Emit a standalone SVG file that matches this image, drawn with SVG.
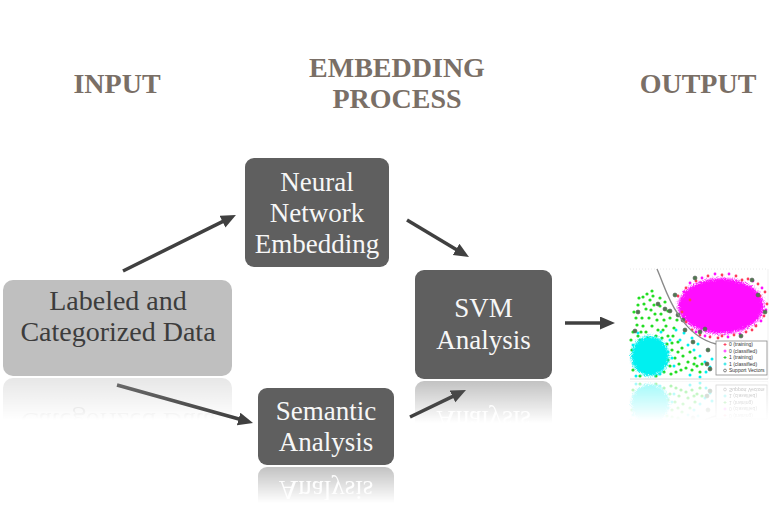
<svg xmlns="http://www.w3.org/2000/svg" xmlns:xlink="http://www.w3.org/1999/xlink" width="780" height="521" viewBox="0 0 780 521">
<style>
.hdr{font-family:"Liberation Serif","Times New Roman",serif;font-weight:bold;font-size:28px;fill:#7a6f66;text-anchor:middle}
.dark{fill:#5f5f5f}
.light{fill:#bfbfbf}
.dtxt{font-family:"Liberation Serif","Times New Roman",serif;font-size:27px;fill:#f7f7f7;text-anchor:middle}
.ltxt{font-family:"Liberation Serif","Times New Roman",serif;font-size:28px;fill:#3c3c3c;text-anchor:middle}
.arrow{stroke:#404040;stroke-width:3.5;fill:none;marker-end:url(#ah)}
.g{fill:#22dd22}
.c{fill:#00f0f0}
.r{fill:#ff3a5a}
.m{fill:#ff10ff}
.sv{fill:#4e7a4e;stroke:#5a5a5a;stroke-width:0.6}
.lg{font-family:"Liberation Sans",Arial,sans-serif;font-size:5px;fill:#333}
</style>
<defs>
<marker id="ah" markerUnits="userSpaceOnUse" markerWidth="16" markerHeight="14" refX="5" refY="6.5" orient="auto">
<path d="M0,0 L15,6.5 L0,13 z" fill="#404040"/>
</marker>
<linearGradient id="fade" x1="0" y1="0" x2="0" y2="1">
<stop offset="0" stop-color="#fff" stop-opacity="0.38"/>
<stop offset="1" stop-color="#fff" stop-opacity="0"/>
</linearGradient>
<mask id="mLab" maskUnits="userSpaceOnUse" x="0" y="377" width="240" height="45"><rect x="0" y="378" width="240" height="42" fill="url(#fade)"/></mask>
<mask id="mSvm" maskUnits="userSpaceOnUse" x="410" y="380" width="150" height="45"><rect x="410" y="381" width="150" height="42" fill="url(#fade)"/></mask>
<mask id="mSem" maskUnits="userSpaceOnUse" x="255" y="466" width="145" height="40"><rect x="255" y="467" width="145" height="36" fill="url(#fade)"/></mask>
<mask id="mOut" maskUnits="userSpaceOnUse" x="625" y="380" width="150" height="45"><rect x="625" y="381" width="150" height="40" fill="url(#fade)"/></mask>
<filter id="speck" x="-30%" y="-30%" width="160%" height="160%">
<feGaussianBlur in="SourceGraphic" stdDeviation="1" result="b"/>
<feTurbulence type="fractalNoise" baseFrequency="0.9" numOctaves="2" seed="3" result="n"/>
<feDisplacementMap in="b" in2="n" scale="7" xChannelSelector="R" yChannelSelector="G"/>
</filter>
<clipPath id="plotClip"><rect x="629" y="266" width="140" height="114"/></clipPath>
</defs>

<g id="headers">
<text class="hdr" x="117" y="93">INPUT</text>
<text class="hdr" x="397" y="77">EMBEDDING</text>
<text class="hdr" x="397" y="108">PROCESS</text>
<text class="hdr" x="698" y="93">OUTPUT</text>
</g>

<g id="connectors">
<line class="arrow" x1="123" y1="271" x2="227" y2="219.4"/>
<line class="arrow" x1="407" y1="220" x2="460.4" y2="251.9"/>
<line class="arrow" x1="117" y1="385" x2="243.4" y2="420.3"/>
<line class="arrow" x1="410" y1="417" x2="457" y2="394.3"/>
<line class="arrow" x1="565" y1="323" x2="605" y2="323"/>
</g>

<g id="node-labeled">
<g id="lab-box">
<rect class="light" x="3" y="280" width="229" height="96" rx="10"/>
<text class="ltxt" x="118" y="310">Labeled and</text>
<text class="ltxt" x="118" y="341">Categorized Data</text>
</g>
<g mask="url(#mLab)"><use xlink:href="#lab-box" href="#lab-box" transform="translate(0,754) scale(1,-1)"/></g>
</g>

<g id="node-neural">
<rect class="dark" x="245" y="158" width="144" height="109" rx="9"/>
<text class="dtxt" x="317" y="191">Neural</text>
<text class="dtxt" x="317" y="222">Network</text>
<text class="dtxt" x="317" y="253">Embedding</text>
</g>

<g id="node-semantic">
<g id="sem-box">
<rect class="dark" x="258" y="388" width="136" height="77" rx="9"/>
<text class="dtxt" x="326" y="420">Semantic</text>
<text class="dtxt" x="326" y="451">Analysis</text>
</g>
<g mask="url(#mSem)"><use xlink:href="#sem-box" href="#sem-box" transform="translate(0,932) scale(1,-1)"/></g>
</g>

<g id="node-svm">
<g id="svm-box">
<rect class="dark" x="415" y="270" width="137" height="109" rx="9"/>
<text class="dtxt" x="483.5" y="317">SVM</text>
<text class="dtxt" x="483.5" y="349">Analysis</text>
</g>
<g mask="url(#mSvm)"><use xlink:href="#svm-box" href="#svm-box" transform="translate(0,760) scale(1,-1)"/></g>
</g>

<g id="node-output">
<g id="plot">
<g clip-path="url(#plotClip)">
<line x1="630" y1="269" x2="768" y2="269" stroke="#e4e4e4" stroke-width="0.8" stroke-dasharray="1,2"/>
<line x1="768" y1="269" x2="768" y2="379" stroke="#ededed" stroke-width="0.8"/>
<!-- green scatter -->
<g class="g">
<circle cx="634" cy="312" r="1.6"/><circle cx="638" cy="305" r="1.6"/><circle cx="642" cy="318" r="1.6"/><circle cx="646" cy="309" r="1.6"/><circle cx="650" cy="300" r="1.6"/>
<circle cx="655" cy="314" r="1.6"/><circle cx="660" cy="306" r="1.6"/><circle cx="664" cy="320" r="1.6"/><circle cx="668" cy="311" r="1.6"/><circle cx="637" cy="325" r="1.6"/>
<circle cx="641" cy="332" r="1.6"/><circle cx="652" cy="326" r="1.6"/><circle cx="658" cy="330" r="1.6"/><circle cx="662" cy="338" r="1.6"/><circle cx="667" cy="344" r="1.6"/>
<circle cx="672" cy="350" r="1.6"/><circle cx="675" cy="358" r="1.6"/><circle cx="679" cy="364" r="1.6"/><circle cx="683" cy="356" r="1.6"/><circle cx="688" cy="362" r="1.6"/>
<circle cx="692" cy="370" r="1.6"/><circle cx="697" cy="366" r="1.6"/><circle cx="700" cy="372" r="1.6"/><circle cx="686" cy="368" r="1.6"/><circle cx="670" cy="366" r="1.6"/>
<circle cx="664" cy="372" r="1.6"/><circle cx="656" cy="376" r="1.6"/><circle cx="640" cy="376" r="1.6"/><circle cx="633" cy="370" r="1.6"/><circle cx="631" cy="340" r="1.6"/>
<circle cx="632" cy="350" r="1.6"/><circle cx="644" cy="304" r="1.6"/><circle cx="653" cy="296" r="1.6"/><circle cx="660" cy="298" r="1.6"/><circle cx="666" cy="326" r="1.6"/>
<circle cx="673" cy="336" r="1.6"/><circle cx="678" cy="342" r="1.6"/><circle cx="682" cy="348" r="1.6"/><circle cx="690" cy="352" r="1.6"/><circle cx="695" cy="358" r="1.6"/>
<circle cx="676" cy="372" r="1.6"/><circle cx="648" cy="338" r="1.6"/><circle cx="655" cy="344" r="1.6"/><circle cx="662" cy="356" r="1.6"/><circle cx="668" cy="360" r="1.6"/>
<circle cx="636" cy="358" r="1.6"/><circle cx="645" cy="371" r="1.6"/><circle cx="665" cy="302" r="1.6"/><circle cx="670" cy="318" r="1.6"/><circle cx="674" cy="328" r="1.6"/>
<circle cx="639" cy="298" r="1.6"/><circle cx="647" cy="294" r="1.6"/><circle cx="657" cy="320" r="1.6"/><circle cx="651" cy="310" r="1.6"/><circle cx="643" cy="326" r="1.6"/>
<circle cx="636" cy="318" r="1.6"/><circle cx="649" cy="318" r="1.6"/><circle cx="654" cy="305" r="1.6"/><circle cx="661" cy="314" r="1.6"/><circle cx="646" cy="332" r="1.6"/>
<circle cx="633" cy="332" r="1.6"/><circle cx="656" cy="336" r="1.6"/><circle cx="668" cy="336" r="1.6"/><circle cx="640" cy="340" r="1.6"/><circle cx="672" cy="343" r="1.6"/>
<circle cx="678" cy="352" r="1.6"/><circle cx="671" cy="374" r="1.6"/><circle cx="681" cy="370" r="1.6"/><circle cx="694" cy="364" r="1.6"/><circle cx="702" cy="364" r="1.6"/>
<circle cx="652" cy="291" r="1.6"/><circle cx="643" cy="297" r="1.6"/><circle cx="663" cy="330" r="1.6"/><circle cx="638" cy="336" r="1.6"/><circle cx="677" cy="320" r="1.6"/>
</g>
<!-- cyan blob -->
<g filter="url(#speck)">
<ellipse cx="650" cy="356" rx="19" ry="20" class="c"/>
</g>
<g class="c">
<circle cx="680" cy="340" r="1.5"/><circle cx="688" cy="345" r="1.5"/><circle cx="694" cy="350" r="1.5"/><circle cx="700" cy="356" r="1.5"/><circle cx="705" cy="362" r="1.5"/>
<circle cx="676" cy="330" r="1.5"/><circle cx="684" cy="333" r="1.5"/><circle cx="692" cy="338" r="1.5"/><circle cx="698" cy="344" r="1.5"/><circle cx="670" cy="340" r="1.5"/>
<circle cx="690" cy="375" r="1.5"/><circle cx="700" cy="377" r="1.5"/><circle cx="706" cy="372" r="1.5"/><circle cx="710" cy="367" r="1.5"/><circle cx="712" cy="359" r="1.5"/>
<circle cx="633" cy="345" r="1.5"/><circle cx="666" cy="364" r="1.5"/><circle cx="668" cy="352" r="1.5"/><circle cx="660" cy="374" r="1.5"/><circle cx="636" cy="376" r="1.5"/>
<circle cx="672" cy="358" r="1.5"/><circle cx="674" cy="366" r="1.5"/><circle cx="638" cy="333" r="1.5"/><circle cx="661" cy="332" r="1.5"/>
</g>
<!-- magenta blob -->
<g filter="url(#speck)">
<ellipse cx="721" cy="306" rx="43" ry="28" class="m"/>
</g>
<g class="r">
<circle cx="678" cy="296" r="1.4"/><circle cx="682" cy="312" r="1.4"/><circle cx="686" cy="322" r="1.4"/><circle cx="692" cy="330" r="1.4"/><circle cx="700" cy="335" r="1.4"/>
<circle cx="710" cy="337" r="1.4"/><circle cx="722" cy="336" r="1.4"/><circle cx="734" cy="335" r="1.4"/><circle cx="746" cy="332" r="1.4"/><circle cx="756" cy="326" r="1.4"/>
<circle cx="764" cy="316" r="1.4"/><circle cx="767" cy="304" r="1.4"/><circle cx="765" cy="292" r="1.4"/><circle cx="758" cy="284" r="1.4"/><circle cx="748" cy="279" r="1.4"/>
<circle cx="736" cy="276" r="1.4"/><circle cx="722" cy="275" r="1.4"/><circle cx="708" cy="276" r="1.4"/><circle cx="696" cy="281" r="1.4"/><circle cx="686" cy="288" r="1.4"/>
<circle cx="690" cy="300" r="1.4"/><circle cx="760" cy="296" r="1.4"/><circle cx="718" cy="338" r="1.4"/><circle cx="742" cy="280" r="1.4"/><circle cx="752" cy="330" r="1.4"/>
</g>
<g class="m">
<circle cx="680" cy="304" r="1.4"/><circle cx="684" cy="292" r="1.4"/><circle cx="690" cy="283" r="1.4"/><circle cx="702" cy="278" r="1.4"/><circle cx="715" cy="274" r="1.4"/>
<circle cx="729" cy="274" r="1.4"/><circle cx="753" cy="281" r="1.4"/><circle cx="762" cy="288" r="1.4"/><circle cx="766" cy="310" r="1.4"/><circle cx="761" cy="321" r="1.4"/>
<circle cx="740" cy="334" r="1.4"/><circle cx="728" cy="337" r="1.4"/><circle cx="705" cy="336" r="1.4"/><circle cx="696" cy="332" r="1.4"/><circle cx="684" cy="318" r="1.4"/>
</g>
<!-- support vectors -->
<g class="sv">
<circle cx="695" cy="278" r="2"/><circle cx="752" cy="280" r="2"/><circle cx="758" cy="295" r="2"/><circle cx="675" cy="295" r="2"/><circle cx="665" cy="309" r="2"/>
<circle cx="670" cy="311" r="2"/><circle cx="678" cy="315" r="2"/><circle cx="685" cy="330" r="2"/><circle cx="700" cy="332" r="2"/><circle cx="708" cy="350" r="2"/>
<circle cx="707" cy="364" r="2"/><circle cx="710" cy="369" r="2"/><circle cx="638" cy="312" r="2"/><circle cx="635" cy="331" r="2"/><circle cx="658" cy="304" r="2"/>
<circle cx="683" cy="320" r="2"/><circle cx="765" cy="312" r="2"/><circle cx="705" cy="329" r="2"/><circle cx="693" cy="342" r="2"/><circle cx="741" cy="336" r="2"/>
</g>
<!-- decision boundary -->
<path d="M657,269 C664,285 668,300 678,314 C688,330 700,340 716,344" fill="none" stroke="#8a8a8a" stroke-width="1.4"/>
<!-- legend -->
<rect x="716" y="341" width="51" height="34" fill="#fff" stroke="#8a8a8a" stroke-width="0.8"/>
<path d="M723.5,344.5h3M725,343v3" stroke="#ff3a5a" stroke-width="0.9"/>
<path d="M723.5,351h3M725,349.5v3" stroke="#ff10ff" stroke-width="0.9"/>
<path d="M723.5,357.5h3M725,356v3" stroke="#22cc22" stroke-width="0.9"/>
<path d="M723.5,364h3M725,362.5v3" stroke="#00e0e0" stroke-width="0.9"/>
<circle cx="725" cy="370.5" r="1.4" fill="none" stroke="#555" stroke-width="0.7"/>
<text class="lg" x="729" y="346.3">0 (training)</text>
<text class="lg" x="729" y="352.8">0 (classified)</text>
<text class="lg" x="729" y="359.3">1 (training)</text>
<text class="lg" x="729" y="365.8">1 (classified)</text>
<text class="lg" x="729" y="372.3">Support Vectors</text>
</g>
<line x1="630" y1="379" x2="768" y2="379" stroke="#d8d8d8" stroke-width="1"/>
</g>
<g mask="url(#mOut)"><use xlink:href="#plot" href="#plot" transform="translate(0,760) scale(1,-1)"/></g>
</g>
</svg>
